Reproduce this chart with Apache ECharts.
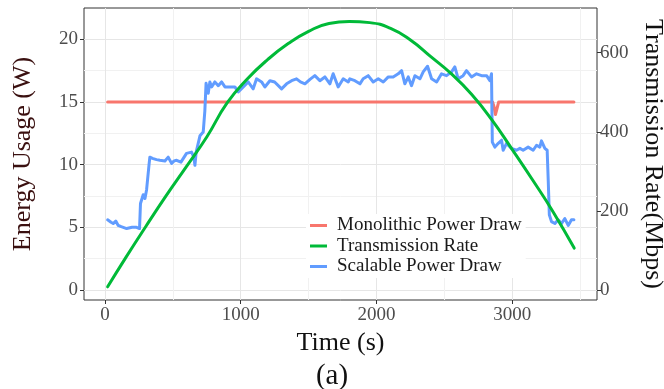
<!DOCTYPE html>
<html>
<head>
<meta charset="utf-8">
<script src="https://cdn.jsdelivr.net/npm/echarts@6/dist/echarts.min.js"></script>
<style>
  html, body { margin: 0; padding: 0; background: #fff; }
  #chart { width: 664px; height: 389px; }
</style>
</head>
<body>
<div id="chart"></div>
<script>
// tick labels
const timeTicks = [0, 1000, 2000, 3000]
const timeMinor = [500, 1500, 2500, 3500]
const energyTicks = [0, 5, 10, 15, 20]
const energyMinor = [2.5, 7.5, 12.5, 17.5]
const rateTicks = [0, 200, 400, 600]

// Monolithic Power Draw (W)
const monoTime = [20, 2855, 2866, 2876, 2886, 2900, 3454]
const monoPower = [15, 15, 14.6, 14.0, 14.4, 15, 15]

// Transmission Rate (Mbps)
const rateTime = [20, 150, 300, 450, 600, 750, 900, 1050, 1200, 1350, 1500, 1650, 1800, 1950, 2100, 2250, 2400, 2550, 2700, 2850, 3000, 3150, 3300, 3456]
const rateMbps = [8, 80, 160, 238, 312, 387, 473, 534, 583, 623, 654, 674, 679, 676, 662, 632, 590, 547, 495, 430, 355, 278, 198, 106]

// Scalable Power Draw (W)
const scalTime = [20, 45, 61, 80, 98, 120, 160, 200, 233, 255, 262, 282, 295, 307, 325, 331, 350, 380, 405, 442, 466, 491, 510, 528, 560, 601, 638, 655, 663, 672, 700, 724, 736, 745, 761, 773, 786, 810, 835, 859, 884, 920, 957, 982, 1019, 1055, 1092, 1117, 1154, 1178, 1215, 1250, 1301, 1338, 1375, 1411, 1440, 1473, 1510, 1546, 1583, 1620, 1657, 1681, 1718, 1755, 1792, 1804, 1841, 1878, 1902, 1939, 1976, 2013, 2050, 2087, 2123, 2160, 2185, 2209, 2234, 2258, 2283, 2320, 2344, 2376, 2406, 2443, 2479, 2516, 2553, 2577, 2602, 2638, 2663, 2700, 2737, 2774, 2811, 2835, 2847, 2853, 2872, 2897, 2921, 2933, 2958, 2994, 3031, 3056, 3080, 3117, 3154, 3179, 3203, 3215, 3240, 3257, 3265, 3273, 3289, 3314, 3338, 3363, 3387, 3412, 3436, 3454]
const scalPower = [5.6, 5.4, 5.3, 5.5, 5.15, 5.05, 4.9, 5.0, 5.0, 4.9, 6.9, 7.6, 7.3, 8.0, 10.0, 10.6, 10.5, 10.4, 10.35, 10.3, 10.6, 10.1, 10.3, 10.35, 10.2, 10.9, 11.0, 10.6, 9.95, 11.0, 12.3, 12.6, 14.3, 16.5, 15.7, 16.6, 16.2, 16.6, 16.3, 16.6, 16.2, 16.2, 16.2, 15.8, 16.2, 16.6, 16.05, 16.85, 16.6, 16.2, 16.7, 16.6, 16.05, 16.45, 16.7, 16.85, 16.6, 16.45, 16.8, 17.1, 16.7, 17.0, 16.45, 17.25, 16.2, 16.85, 16.6, 16.85, 16.7, 16.45, 16.85, 17.1, 16.6, 16.85, 16.6, 17.0, 17.0, 17.25, 17.5, 16.45, 17.0, 16.3, 17.1, 16.85, 17.4, 17.85, 16.85, 16.6, 17.25, 17.1, 17.4, 17.8, 16.85, 17.1, 17.5, 17.0, 17.25, 17.1, 17.1, 16.7, 17.25, 11.8, 11.4, 11.7, 11.95, 11.15, 11.7, 11.3, 11.15, 11.3, 11.15, 11.4, 11.15, 11.55, 11.4, 11.9, 11.3, 11.15, 8.7, 6.0, 5.45, 5.3, 5.6, 5.3, 5.7, 5.15, 5.6, 5.6]

const zip = (xs, ys) => xs.map((x, i) => [x, ys[i]])

const font = 'Liberation Serif'
const tickColor = '#4d4d4d'
const xMin = -154, xMax = 3624
const yMin = -0.8, yMax = 22.5
const rMin = -25.3, rMax = 713

const chart = echarts.init(document.getElementById('chart'))
chart.setOption({
  animation: false,
  backgroundColor: '#fff',
  title: {
    text: '(a)',
    left: 'center',
    top: 357,
    textStyle: { fontFamily: font, fontSize: 29, fontWeight: 'normal', color: '#111' },
  },
  grid: {
    left: 84,
    right: 67,
    top: 8,
    bottom: 89,
    outerBoundsMode: 'none',
    show: true,
    borderColor: '#333',
    borderWidth: 1,
    backgroundColor: 'transparent',
  },
  legend: {
    orient: 'vertical',
    left: 306,
    top: 214,
    padding: [2, 4, 2, 4],
    backgroundColor: '#fff',
    itemGap: 1.5,
    itemWidth: 17,
    itemHeight: 3,
    icon: 'rect',
    data: ['Monolithic Power Draw', 'Transmission Rate', 'Scalable Power Draw'],
    textStyle: { fontFamily: font, fontSize: 19, color: '#1a1a1a', lineHeight: 19, padding: [0, 0, 0, 5] },
  },
  xAxis: [
    {
      type: 'value',
      min: xMin,
      max: xMax,
      name: 'Time (s)',
      nameLocation: 'middle',
      nameGap: 27,
      nameTextStyle: { fontFamily: font, fontSize: 26, color: '#111' },
      axisLine: { show: false, onZero: false },
      axisTick: { show: true, length: 4, lineStyle: { color: '#333' }, customValues: timeTicks },
      axisLabel: { customValues: timeTicks, formatter: v => String(v), fontFamily: font, fontSize: 19, color: tickColor, margin: 6 },
      splitLine: { show: true, lineStyle: { color: '#e6e6e6', width: 1 } },
    },
    {
      // minor grid lines
      type: 'value',
      min: xMin,
      max: xMax,
      position: 'bottom',
      axisLine: { show: false, onZero: false },
      axisTick: { show: false, customValues: timeMinor },
      axisLabel: { show: false, customValues: timeMinor },
      splitLine: { show: true, lineStyle: { color: '#f1f1f1', width: 1 } },
    },
  ],
  yAxis: [
    {
      type: 'value',
      min: yMin,
      max: yMax,
      name: 'Energy Usage (W)',
      nameLocation: 'middle',
      nameGap: 48,
      nameTextStyle: { fontFamily: font, fontSize: 26, color: '#3a1010' },
      axisLine: { show: false, onZero: false },
      axisTick: { show: true, length: 4, lineStyle: { color: '#333' }, customValues: energyTicks },
      axisLabel: { customValues: energyTicks, fontFamily: font, fontSize: 19, color: tickColor, margin: 6 },
      splitLine: { show: true, lineStyle: { color: '#e6e6e6', width: 1 } },
    },
    {
      type: 'value',
      min: rMin,
      max: rMax,
      position: 'right',
      name: 'Transmission Rate(Mbps)',
      nameLocation: 'middle',
      nameRotate: -90,
      nameGap: 40,
      nameTextStyle: { fontFamily: font, fontSize: 26, color: '#111' },
      axisLine: { show: false, onZero: false },
      axisTick: { show: true, length: 4, lineStyle: { color: '#333' }, customValues: rateTicks },
      axisLabel: { customValues: rateTicks, fontFamily: font, fontSize: 19, color: tickColor, margin: 3 },
      splitLine: { show: false },
    },
    {
      // minor grid lines
      type: 'value',
      min: yMin,
      max: yMax,
      position: 'left',
      axisLine: { show: false, onZero: false },
      axisTick: { show: false, customValues: energyMinor },
      axisLabel: { show: false, customValues: energyMinor },
      splitLine: { show: true, lineStyle: { color: '#f1f1f1', width: 1 } },
    },
  ],
  series: [
    {
      name: 'Monolithic Power Draw',
      type: 'line',
      data: zip(monoTime, monoPower),
      showSymbol: false,
      itemStyle: { color: '#F8766D' },
      lineStyle: { color: '#F8766D', width: 3, cap: 'round', join: 'round' },
      z: 3,
    },
    {
      name: 'Scalable Power Draw',
      type: 'line',
      data: zip(scalTime, scalPower),
      showSymbol: false,
      itemStyle: { color: '#619CFF' },
      lineStyle: { color: '#619CFF', width: 3, cap: 'round', join: 'round' },
      z: 4,
    },
    {
      name: 'Transmission Rate',
      type: 'line',
      yAxisIndex: 1,
      data: zip(rateTime, rateMbps),
      smooth: true,
      showSymbol: false,
      itemStyle: { color: '#00BA38' },
      lineStyle: { color: '#00BA38', width: 3, cap: 'round' },
      z: 5,
    },
  ],
})
</script>
</body>
</html>
